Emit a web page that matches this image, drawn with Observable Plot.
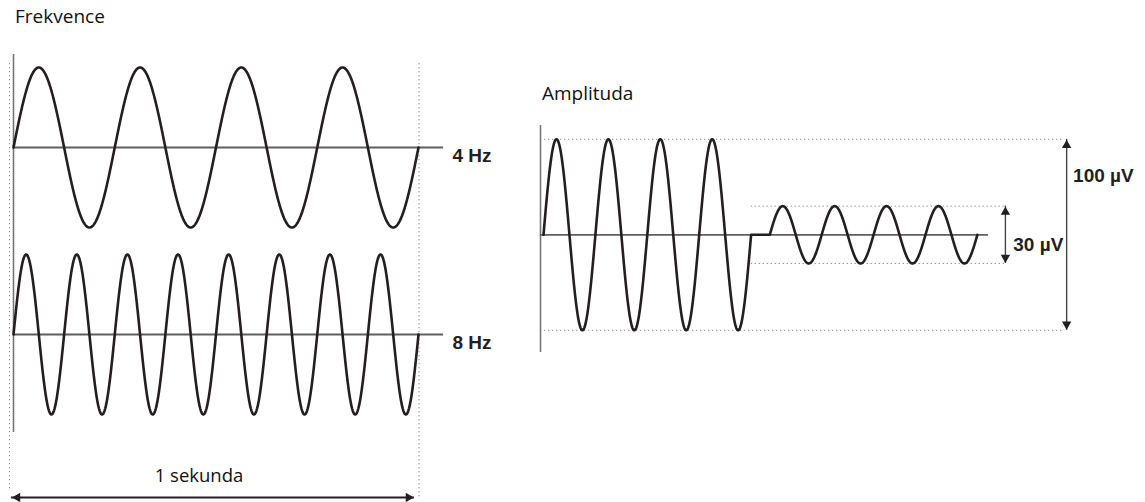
<!DOCTYPE html>
<html><head><meta charset="utf-8">
<script src="https://cdn.jsdelivr.net/npm/d3@7"></script>
<script src="https://cdn.jsdelivr.net/npm/@observablehq/plot@0.6"></script>
<style>
html,body{margin:0;padding:0;background:#fff;}
#fig{position:relative;width:1145px;height:502px;overflow:hidden;}
.title{position:absolute;font-family:"Open Sans";font-size:19px;line-height:19px;color:#111;white-space:nowrap;}
.panel{position:absolute;top:0;}
</style></head><body>
<div id="fig">
  <div class="title" id="t1" style="left:15px;top:7px"></div>
  <div class="title" id="t2" style="left:542px;top:84px"></div>
  <div class="panel" id="left" style="left:0px"></div>
  <div class="panel" id="right" style="left:530px"></div>
</div>
<script>
// ---- data ----
const panelTitles = ["Frekvence", "Amplituda"];
const freqHz = [4, 8];
const freqLabels = ["4 Hz", "8 Hz"];
const spanSeconds = 1;
const spanLabel = "1 sekunda";
const ampMicroV = [100, 30];          // peak-to-peak
const ampLabels = ["100 µV", "30 µV"];
const ampFreqHz = 4;
const ampStart = [0, 1.09];           // seconds
const ampDuration = 1;                // seconds

document.getElementById("t1").textContent = panelTitles[0];
document.getElementById("t2").textContent = panelTitles[1];

// ---- styling / layout constants ----
const INK = "#231f20", GRID = "#5e5e5e", AXIS = "#777", DOT = "#8a8a8a";
const DASH = "1.3,2.7";
const LABEL_FONT = {fontFamily: "Liberation Sans, Arial, sans-serif", fontWeight: "bold", fontSize: 19, fill: INK};
const ROW_GAP = 2.3375;                // distance between rows (amplitude units)
const N = 1200;

// ---- left panel: frequency ----
const rowBase = freqHz.map((_, i) => -i * ROW_GAP);
const freqWaves = freqHz.flatMap((f, i) => d3.range(N + 1).map(k => {
  const t = k / N * spanSeconds;
  return {row: freqLabels[i], t, v: rowBase[i] + Math.sin(2 * Math.PI * f * t)};
}));

const arrowV = -4.375, headR = 3.5;
const left = Plot.plot({
  width: 540, height: 502,
  x: {domain: [0, spanSeconds], range: [13, 418], axis: null},
  y: {domain: [-1, 1], range: [227, 67], axis: null},
  style: {overflow: "visible", background: "transparent"},
  marks: [
    Plot.ruleX([0], {y1: 1.05, y2: -4.3, dx: -4, stroke: DOT, strokeWidth: 1, strokeDasharray: DASH}),
    Plot.ruleX([spanSeconds], {y1: 1.05, y2: -4.375, dx: 0.5, stroke: DOT, strokeWidth: 1, strokeDasharray: DASH}),
    Plot.ruleX([0], {y1: 1.1625, y2: -3.5625, stroke: AXIS, strokeWidth: 1.6}),
    Plot.ruleY(rowBase, {x1: 0, x2: 1.062, stroke: GRID, strokeWidth: 1.8}),
    Plot.line(freqWaves, {x: "t", y: "v", z: "row", stroke: INK, strokeWidth: 2.6, strokeLinejoin: "round"}),
    Plot.text(freqLabels, {x: 1.084, y: (d, i) => rowBase[i], text: d => d, dy: 8, textAnchor: "start", ...LABEL_FONT}),
    Plot.text([spanLabel], {x: spanSeconds / 2, y: -4.1125, text: d => d, dx: -17, fontFamily: "Open Sans", fontSize: 18.5, fill: "#111"}),
    Plot.ruleY([arrowV], {x1: -0.005, x2: 0.99, stroke: INK, strokeWidth: 2}),
    Plot.dot([arrowV], {x: -0.005, y: d => d, dx: 6, r: headR, symbol: "triangle", rotate: -90, fill: INK}),
    Plot.dot([arrowV], {x: 0.99, y: d => d, dx: -6, r: headR, symbol: "triangle", rotate: 90, fill: INK})
  ]
});
document.getElementById("left").appendChild(left);

// ---- right panel: amplitude ----
const ampWave = ampMicroV.flatMap((a, i) => d3.range(N + 1).map(k => {
  const t = k / N * ampDuration;
  return {t: ampStart[i] + t, v: (a / 2) * Math.sin(2 * Math.PI * ampFreqHz * t)};
}));
const big = ampMicroV[0] / 2, small = ampMicroV[1] / 2;

const right = Plot.plot({
  width: 615, height: 502,
  x: {domain: [0, 1], range: [13, 220.6], axis: null},
  y: {domain: [-50, 50], range: [329.8, 138.8], axis: null},
  style: {overflow: "visible", background: "transparent"},
  marks: [
    Plot.ruleY([big, -big], {x1: -0.0145, x2: 2.51, stroke: DOT, strokeWidth: 1, strokeDasharray: DASH}),
    Plot.ruleY([small, -small], {x1: 1.0, x2: 2.22, stroke: DOT, strokeWidth: 1, strokeDasharray: DASH}),
    Plot.ruleX([0], {y1: 57.2, y2: -61.6, dx: -3, stroke: AXIS, strokeWidth: 1.6}),
    Plot.ruleY([0], {x1: -0.0145, x2: 2.144, stroke: GRID, strokeWidth: 1.8}),
    Plot.line(ampWave, {x: "t", y: "v", stroke: INK, strokeWidth: 2.6, strokeLinejoin: "round"}),
    // 100 µV arrow
    Plot.ruleX([2.52], {y1: big, y2: -big, stroke: "#444", strokeWidth: 1.4}),
    Plot.dot([big], {x: 2.52, y: d => d, dy: 6, r: headR, symbol: "triangle", fill: INK}),
    Plot.dot([-big], {x: 2.52, y: d => d, dy: -6, r: headR, symbol: "triangle", rotate: 180, fill: INK}),
    // 30 µV arrow
    Plot.ruleX([2.225], {y1: small, y2: -small, stroke: "#444", strokeWidth: 1.4}),
    Plot.dot([small], {x: 2.225, y: d => d, dy: 6, r: headR, symbol: "triangle", fill: INK}),
    Plot.dot([-small], {x: 2.225, y: d => d, dy: -6, r: headR, symbol: "triangle", rotate: 180, fill: INK}),
    Plot.text([ampLabels[0]], {x: 2.551, y: 31, text: d => d, textAnchor: "start", ...LABEL_FONT}),
    Plot.text([ampLabels[1]], {x: 2.263, y: 0, dy: 10, text: d => d, textAnchor: "start", ...LABEL_FONT})
  ]
});
document.getElementById("right").appendChild(right);
</script>
</body></html>
